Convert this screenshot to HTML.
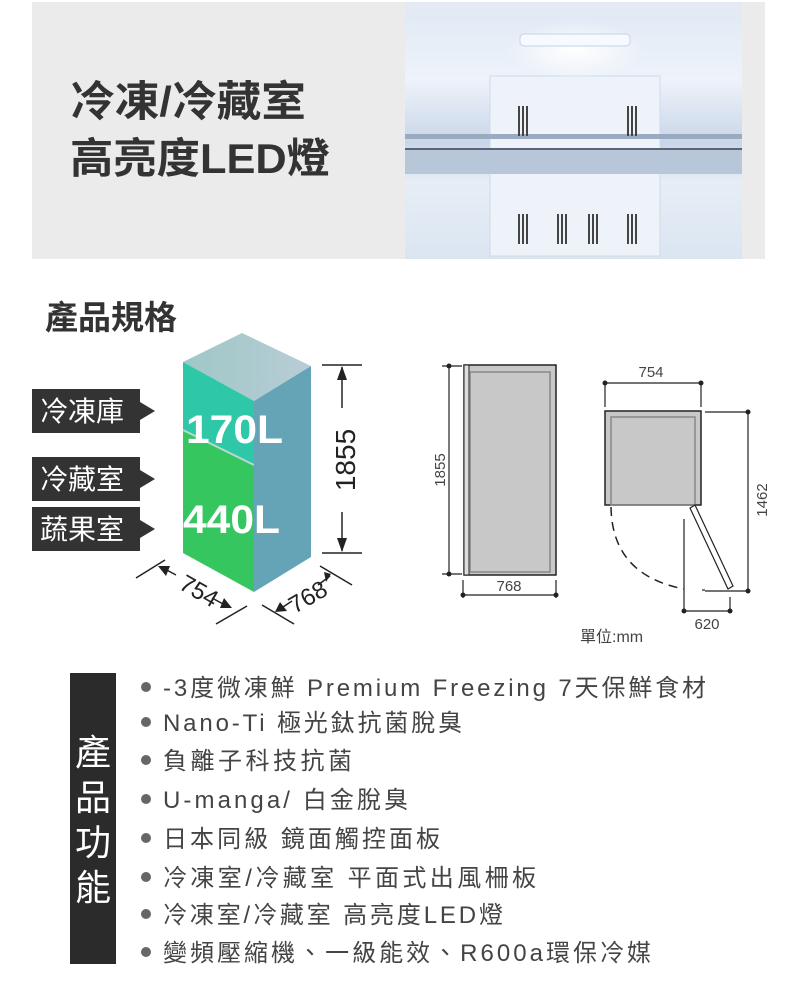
<!DOCTYPE html>
<html><head><meta charset="utf-8"><style>
html,body{margin:0;padding:0;background:#fff;}
svg{display:block;font-family:"Liberation Sans","Noto Sans CJK TC",sans-serif;}
</style></head><body>
<svg width="800" height="989" viewBox="0 0 800 989" xmlns="http://www.w3.org/2000/svg">
<defs>
<linearGradient id="ph" x1="0" y1="0" x2="0" y2="1">
<stop offset="0" stop-color="#dfe8f4"/><stop offset="0.3" stop-color="#eef3fa"/><stop offset="0.55" stop-color="#c9d6e8"/><stop offset="0.7" stop-color="#e6edf6"/><stop offset="1" stop-color="#dbe5f1"/></linearGradient>
<radialGradient id="glow" cx="0.5" cy="0.5" r="0.5"><stop offset="0" stop-color="#fff"/><stop offset="1" stop-color="#fff" stop-opacity="0"/></radialGradient>
<linearGradient id="topf" x1="0" y1="0" x2="1" y2="0"><stop offset="0" stop-color="#9fc7c6"/><stop offset="1" stop-color="#b8cdd6"/></linearGradient>
</defs>
<rect x="32" y="2" width="733" height="257" fill="#ebebeb"/>
<text x="70" y="116" font-size="42" font-weight="bold" fill="#333" textLength="236" lengthAdjust="spacingAndGlyphs">冷凍/冷藏室</text>
<text x="70" y="173" font-size="42" font-weight="bold" fill="#333" textLength="260" lengthAdjust="spacingAndGlyphs">高亮度LED燈</text>
<!-- photo -->
<rect x="405" y="2" width="337" height="257" fill="url(#ph)"/>
<rect x="405" y="2" width="337" height="14" fill="#e3eaf4"/>
<rect x="490" y="76" width="170" height="180" fill="#eef3f9" stroke="#cfdbe9"/>
<rect x="405" y="134" width="337" height="5" fill="#9aaac0"/>
<rect x="405" y="148" width="337" height="2" fill="#5a6478"/>
<rect x="405" y="150" width="337" height="24" fill="#b8c6d9"/>
<ellipse cx="575" cy="50" rx="70" ry="28" fill="url(#glow)"/>
<rect x="520" y="34" width="110" height="12" rx="4" fill="#f6f9fd" stroke="#c5d3e5"/>
<g fill="#444">
<rect x="518" y="106" width="2" height="30"/><rect x="522" y="106" width="2" height="30"/><rect x="526" y="106" width="2" height="30"/>
<rect x="627" y="106" width="2" height="30"/><rect x="631" y="106" width="2" height="30"/><rect x="635" y="106" width="2" height="30"/>
<rect x="518" y="214" width="2" height="30"/><rect x="522" y="214" width="2" height="30"/><rect x="526" y="214" width="2" height="30"/>
<rect x="557" y="214" width="2" height="30"/><rect x="561" y="214" width="2" height="30"/><rect x="565" y="214" width="2" height="30"/>
<rect x="588" y="214" width="2" height="30"/><rect x="592" y="214" width="2" height="30"/><rect x="596" y="214" width="2" height="30"/>
<rect x="627" y="214" width="2" height="30"/><rect x="631" y="214" width="2" height="30"/><rect x="635" y="214" width="2" height="30"/>
</g>
<text x="45" y="329" font-size="33" font-weight="bold" fill="#333">產品規格</text>
<!-- labels -->
<g fill="#333">
<rect x="32" y="389" width="108" height="44"/><polygon points="140,402 155,411 140,420"/>
<rect x="32" y="457" width="108" height="44"/><polygon points="140,470 155,479 140,488"/>
<rect x="32" y="507" width="108" height="44"/><polygon points="140,520 155,529 140,538"/>
</g>
<g fill="#fff" font-size="28"><text x="40" y="421">冷凍庫</text><text x="40" y="489">冷藏室</text><text x="40" y="539">蔬果室</text></g>
<!-- 3D box -->
<polygon points="183,362 242,333 311,366 254,401" fill="url(#topf)"/>
<polygon points="183,362 254,401 254,465 183,430" fill="#2ec8a8"/>
<polygon points="183,430 254,465 254,592 183,553" fill="#35c660"/>
<line x1="183" y1="430" x2="254" y2="465" stroke="#b8d8d0" stroke-width="2"/>
<polygon points="254,401 311,366 311,557 254,592" fill="#65a4b6"/>
<text x="186" y="443" font-size="40" font-weight="bold" fill="#fff" textLength="97" lengthAdjust="spacingAndGlyphs">170L</text>
<text x="183" y="533" font-size="40" font-weight="bold" fill="#fff" textLength="97" lengthAdjust="spacingAndGlyphs">440L</text>
<!-- 1855 dim -->
<g stroke="#222" stroke-width="1.5" fill="none">
<line x1="322" y1="365" x2="362" y2="365"/><line x1="322" y1="553" x2="362" y2="553"/>
<line x1="342" y1="367" x2="342" y2="408"/><line x1="342" y1="512" x2="342" y2="551"/>
<line x1="136" y1="578" x2="165" y2="560"/><line x1="216" y1="624" x2="247" y2="606"/>
<line x1="163" y1="568" x2="176" y2="575"/><line x1="212" y1="598" x2="225" y2="605"/>
<line x1="262" y1="605" x2="294" y2="624"/><line x1="320" y1="566" x2="352" y2="585"/>
<line x1="280" y1="609" x2="292" y2="601"/><line x1="318" y1="585" x2="330" y2="576"/>
</g>
<g fill="#222"><polygon points="342,366 337,380 347,380"/><polygon points="342,552 337,538 347,538"/>
<polygon points="158,566 170,566 166,576"/><polygon points="232,608 220,608 224,598"/>
<polygon points="275,612 280,602 287,611"/><polygon points="331,574 324,572 326,582"/></g>
<text transform="translate(355,460) rotate(-90)" font-size="28" text-anchor="middle" fill="#222">1855</text>
<text transform="translate(195,598) rotate(30)" font-size="24" text-anchor="middle" fill="#222">754</text>
<text transform="translate(312,604) rotate(-30)" font-size="24" text-anchor="middle" fill="#222">768</text>
<!-- side view -->
<rect x="464" y="365" width="92" height="210" fill="#c8c8c8" stroke="#222" stroke-width="1.5"/>
<rect x="464" y="365" width="5" height="210" fill="#ddd" stroke="#222" stroke-width="1"/>
<rect x="470" y="372" width="80" height="200" fill="none" stroke="#888" stroke-width="1.5"/>
<g stroke="#222" stroke-width="1.2"><line x1="442" y1="366" x2="462" y2="366"/><line x1="442" y1="574" x2="462" y2="574"/><line x1="449" y1="366" x2="449" y2="574"/>
<line x1="463" y1="580" x2="463" y2="598"/><line x1="556" y1="580" x2="556" y2="598"/><line x1="463" y1="595" x2="556" y2="595"/></g>
<g fill="#222"><circle cx="449" cy="366" r="2.5"/><circle cx="449" cy="574" r="2.5"/><circle cx="463" cy="595" r="2.5"/><circle cx="556" cy="595" r="2.5"/></g>
<text transform="translate(445,470) rotate(-90)" font-size="15" text-anchor="middle" fill="#444">1855</text>
<text x="509" y="591" font-size="15" text-anchor="middle" fill="#444">768</text>
<!-- top view -->
<rect x="605" y="411" width="96" height="94" fill="#c8c8c8" stroke="#222" stroke-width="1.5"/>
<rect x="611" y="417" width="84" height="88" fill="none" stroke="#888" stroke-width="1.5"/>
<g stroke="#222" stroke-width="1.2" fill="none">
<line x1="605" y1="383" x2="701" y2="383"/><line x1="605" y1="385" x2="605" y2="407"/><line x1="701" y1="385" x2="701" y2="407"/>
<line x1="705" y1="412" x2="748" y2="412"/><line x1="748" y1="412" x2="748" y2="591"/><line x1="705" y1="591" x2="748" y2="591"/>
<polygon points="690,508 695,505 733,586 728,589" fill="#fff"/>
<line x1="684" y1="519" x2="684" y2="612"/><line x1="684" y1="611" x2="730" y2="611"/><line x1="730" y1="597" x2="730" y2="612"/>
<line x1="702" y1="590" x2="705" y2="590"/>
<path d="M611,507 Q612,575 684,589" stroke-dasharray="9,6" stroke-width="1.5"/>
</g>
<g fill="#222"><circle cx="605" cy="383" r="2.5"/><circle cx="701" cy="383" r="2.5"/><circle cx="748" cy="412" r="2.5"/><circle cx="748" cy="591" r="2.5"/><circle cx="684" cy="611" r="2.5"/><circle cx="730" cy="611" r="2.5"/></g>
<text x="651" y="377" font-size="15" text-anchor="middle" fill="#444">754</text>
<text transform="translate(767,500) rotate(-90)" font-size="15" text-anchor="middle" fill="#444">1462</text>
<text x="707" y="629" font-size="15" text-anchor="middle" fill="#444">620</text>
<text x="580" y="642" font-size="16" fill="#444">單位:mm</text>
<!-- features -->
<rect x="70" y="673" width="46" height="291" fill="#2b2b2b"/>
<g fill="#fff" font-size="36" text-anchor="middle"><text x="93" y="765">產</text><text x="93" y="810">品</text><text x="93" y="855">功</text><text x="93" y="900">能</text></g>
<g fill="#666"><circle cx="146" cy="687" r="5"/><circle cx="146" cy="722" r="5"/><circle cx="146" cy="760" r="5"/><circle cx="146" cy="799" r="5"/><circle cx="146" cy="838" r="5"/><circle cx="146" cy="877" r="5"/><circle cx="146" cy="914" r="5"/><circle cx="146" cy="952" r="5"/></g>
<g fill="#444" font-size="24" lengthAdjust="spacing">
<text x="163" y="696" textLength="543">-3度微凍鮮 Premium Freezing 7天保鮮食材</text>
<text x="163" y="731" textLength="299">Nano-Ti 極光鈦抗菌脫臭</text>
<text x="163" y="769" textLength="189">負離子科技抗菌</text>
<text x="163" y="808" textLength="245">U-manga/ 白金脫臭</text>
<text x="163" y="847" textLength="277">日本同級 鏡面觸控面板</text>
<text x="163" y="886" textLength="373">冷凍室/冷藏室 平面式出風柵板</text>
<text x="163" y="923" textLength="340">冷凍室/冷藏室 高亮度LED燈</text>
<text x="163" y="961" textLength="488">變頻壓縮機、一級能效、R600a環保冷媒</text>
</g>
</svg>
</body></html>
